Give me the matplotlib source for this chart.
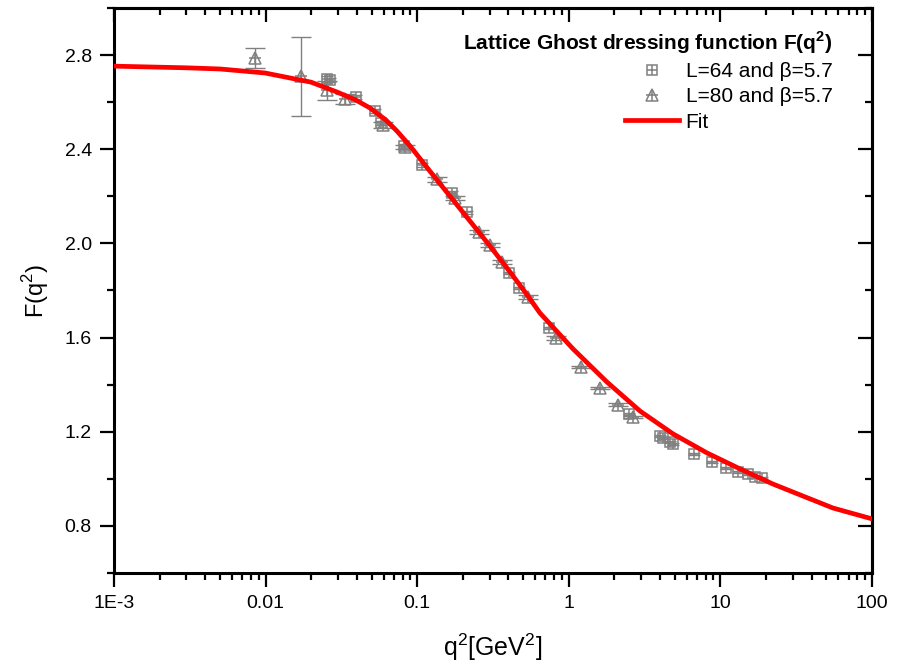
import numpy as np
import matplotlib
matplotlib.use("Agg")
import matplotlib.pyplot as plt
from matplotlib.ticker import FixedLocator, NullFormatter, LogLocator

plt.rcParams['font.family'] = ['Liberation Sans', 'DejaVu Sans']
plt.rcParams['mathtext.fontset'] = 'custom'
plt.rcParams['mathtext.rm'] = 'Liberation Sans'
plt.rcParams['mathtext.bf'] = 'Liberation Sans:bold'

# L=64, beta=5.7 (squares)
q64 = [0.0254, 0.0266, 0.0397, 0.0527, 0.058, 0.082, 0.108, 0.170, 0.213,
       0.403, 0.469, 0.740, 2.50, 4.0, 4.2, 4.65, 4.87, 6.70, 8.81, 10.9,
       13.1, 15.2, 16.9, 18.8]
F64 = [2.698, 2.694, 2.622, 2.562, 2.510, 2.413, 2.333, 2.214, 2.133,
       1.874, 1.811, 1.641, 1.276, 1.182, 1.174, 1.157, 1.148, 1.106, 1.072,
       1.046, 1.029, 1.021, 1.008, 1.004]
err64 = [0.012, 0.010, 0.010, 0.008, 0.008, 0.008, 0.007, 0.007, 0.006,
         0.005, 0.005, 0.005, 0.004, 0.004, 0.004, 0.004, 0.004, 0.004, 0.003,
         0.003, 0.003, 0.003, 0.003, 0.003]

# L=80, beta=5.7 (triangles)
q80 = [0.0085, 0.0171, 0.0254, 0.0334, 0.0595, 0.0832, 0.135, 0.178, 0.256,
       0.302, 0.362, 0.538, 0.824, 1.20, 1.61, 2.11, 2.65]
F80 = [2.787, 2.710, 2.651, 2.613, 2.503, 2.409, 2.273, 2.193, 2.048,
       1.993, 1.921, 1.772, 1.598, 1.475, 1.386, 1.314, 1.263]
err80 = [0.042, 0.168, 0.040, 0.022, 0.012, 0.010, 0.010, 0.009, 0.008,
         0.008, 0.008, 0.007, 0.007, 0.006, 0.006, 0.006, 0.006]

# fit curve
qfit = [0.001, 0.00299, 0.005, 0.00991, 0.01994, 0.0296, 0.0394, 0.0489,
        0.0622, 0.0736, 0.0897, 0.1213, 0.1644, 0.2228, 0.302, 0.409, 0.514,
        0.646, 1.066, 1.787, 2.95, 4.87, 8.16, 13.5, 22.2, 33.5, 55.3, 100]
Ffit = [2.753, 2.746, 2.741, 2.724, 2.685, 2.643, 2.609, 2.575,
        2.524, 2.477, 2.414, 2.307, 2.201, 2.095, 1.989, 1.879, 1.794,
        1.704, 1.552, 1.411, 1.288, 1.191, 1.110, 1.042, 0.978, 0.932, 0.876, 0.830]

xticks = [1e-3, 1e-2, 1e-1, 1, 10, 100]
xlabels = ['1E-3', '0.01', '0.1', '1', '10', '100']
yticks = [0.8, 1.2, 1.6, 2.0, 2.4, 2.8]

grey = '#808080'

fig = plt.figure(figsize=(8.98, 6.62), dpi=100)
ax = fig.add_axes([114/898, 89/662, 758/898, 565/662])

ax.errorbar(q64, F64, yerr=err64, fmt='none', ecolor=grey, elinewidth=1,
            capsize=4, capthick=1, zorder=2)
ax.errorbar(q80, F80, yerr=err80, fmt='none', ecolor=grey, elinewidth=1,
            capsize=7, capthick=1, zorder=2)
sq, = ax.plot(q64, F64, ls='none', marker='s', ms=7.5, mfc='none',
              mec=grey, mew=1.1, zorder=3)
sqp, = ax.plot(q64, F64, ls='none', marker='+', ms=7.5, mec=grey,
               mew=1.1, zorder=3)
tr, = ax.plot(q80, F80, ls='none', marker='^', ms=8.5, mfc='none',
              mec=grey, mew=1.1, zorder=3)
trp, = ax.plot(q80, F80, ls='none', marker='+', ms=9, mec=grey,
               mew=1.1, zorder=3)
fit, = ax.plot(qfit, Ffit, color='red', lw=3.4, zorder=4,
               solid_joinstyle='round')

ax.set_xscale('log')
ax.set_xlim(1e-3, 100)
ax.set_ylim(0.6, 3.0)
ax.set_xticks(xticks)
ax.set_xticklabels(xlabels)
ax.xaxis.set_minor_locator(LogLocator(base=10, subs=np.arange(2, 10)))
ax.xaxis.set_minor_formatter(NullFormatter())
ax.set_yticks(yticks)
ax.set_yticklabels(['%.1f' % v for v in yticks])
ax.yaxis.set_minor_locator(FixedLocator(np.arange(0.6, 3.01, 0.2)))

for s in ax.spines.values():
    s.set_linewidth(2.2)

ax.tick_params(which='both', direction='out', top=False, right=False,
               labelsize=14, width=1.6, pad=6)
ax.tick_params(which='major', length=10)
ax.tick_params(which='minor', length=5)

# inward ticks on top and right
ax_t = ax.secondary_xaxis('top')
ax_t.set_xticks(xticks)
ax_t.xaxis.set_minor_locator(LogLocator(base=10, subs=np.arange(2, 10)))
ax_t.xaxis.set_minor_formatter(NullFormatter())
ax_t.tick_params(which='both', direction='in', labeltop=False, width=1.6)
ax_t.tick_params(which='major', length=10)
ax_t.tick_params(which='minor', length=5)
ax_t.spines['top'].set_linewidth(2.2)
ax_r = ax.secondary_yaxis('right')
ax_r.set_yticks(yticks)
ax_r.yaxis.set_minor_locator(FixedLocator(np.arange(0.6, 3.01, 0.2)))
ax_r.tick_params(which='both', direction='in', labelright=False, width=1.6)
ax_r.tick_params(which='major', length=10)
ax_r.tick_params(which='minor', length=5)
ax_r.spines['right'].set_linewidth(2.2)

ax.set_xlabel(r'q$^2$[GeV$^2$]', fontsize=18, labelpad=14)
ax.set_ylabel(r'F(q$^2$)', fontsize=17, labelpad=10)

leg = ax.legend([(sq, sqp), (tr, trp), fit],
                ['L=64 and \u03b2=5.7', 'L=80 and \u03b2=5.7', 'Fit'],
                title=r'Lattice Ghost dressing function F(q$^\mathbf{2}$)',
                loc='upper right', bbox_to_anchor=(0.967, 0.988), frameon=False,
                fontsize=15, handlelength=2.6, handletextpad=0.3,
                labelspacing=0.3, alignment='right', borderaxespad=0.3)
leg.get_title().set_fontsize(15)
leg.get_title().set_fontweight('bold')

fig.savefig('out.png', dpi=100)
